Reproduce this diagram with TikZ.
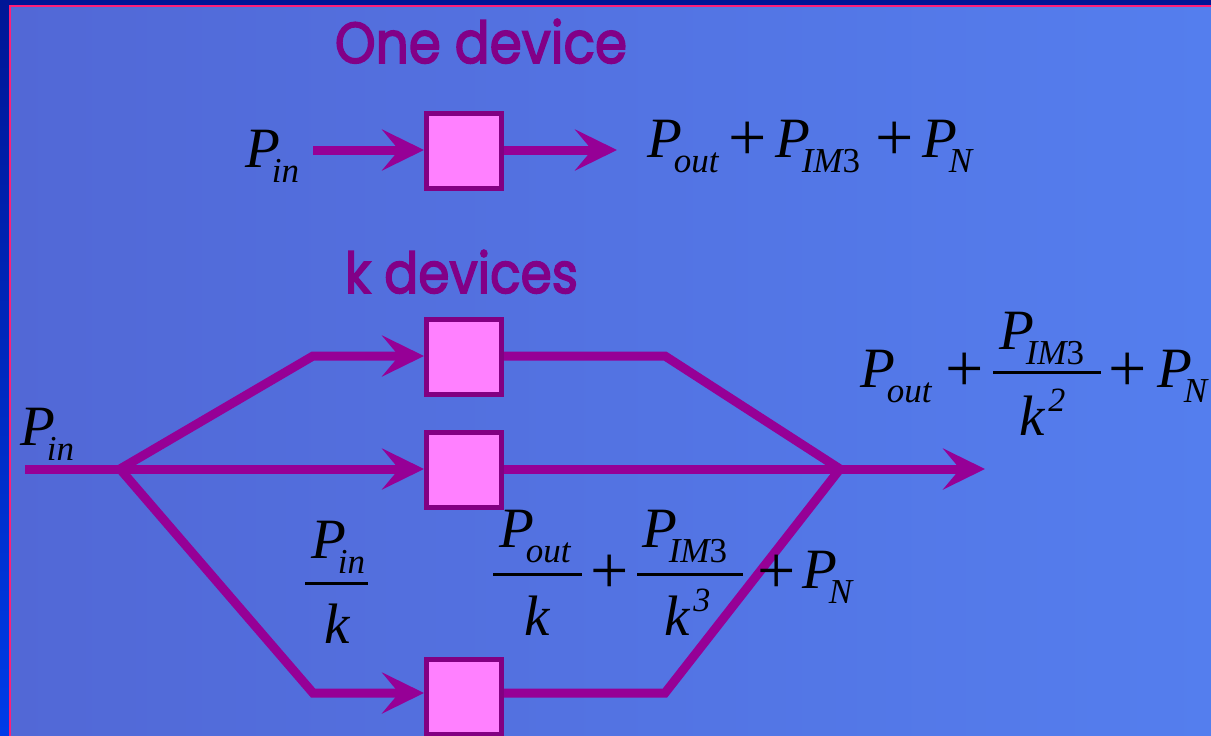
\documentclass[tikz,border=0pt]{standalone}
\usepackage{fontspec}
\setmainfont{Liberation Serif}
\newfontfamily\ttl[FakeBold=2.8]{Poppins}
\usetikzlibrary{arrows.meta}
\definecolor{bgL}{RGB}{82,104,214}
\definecolor{bgR}{RGB}{84,126,238}
\definecolor{frameT}{RGB}{0,22,150}
\definecolor{frameB}{RGB}{0,60,232}
\definecolor{pinkline}{RGB}{255,30,120}
\definecolor{wire}{RGB}{150,0,150}
\definecolor{devb}{RGB}{130,0,130}
\definecolor{devf}{RGB}{255,128,255}
\definecolor{ttlc}{RGB}{130,0,135}
\newcommand\Sb[1]{\raisebox{-15pt}{\fontsize{35}{35}\selectfont\itshape #1}}
\newcommand\Pv[1]{{\itshape P}\kern-8pt\Sb{#1}}
\newcommand\Sp[1]{\raisebox{24pt}{\fontsize{34}{34}\selectfont #1}}
\tikzset{
  wirestyle/.style={draw=wire, line width=9pt},
  arr/.style={wirestyle, -{Stealth[length=42pt,width=41pt,inset=17pt]}},
  dev/.style={draw=devb, fill=devf, line width=5pt, minimum size=75pt, inner sep=0pt},
  mth/.style={inner sep=0pt, outer sep=0pt, text=black, font=\fontsize{57}{60}\selectfont},
  plus/.style={mth, font=\fontsize{68}{70}\selectfont},
  fbar/.style={draw=black, line width=3pt},
  ttlstyle/.style={inner sep=0pt, text=ttlc}
}
\begin{document}
\begin{tikzpicture}[x=1pt,y=-1pt]
\useasboundingbox (0,0) rectangle (1211,736);
\clip (0,0) rectangle (1211,736);
% background
\shade[top color=frameT, bottom color=frameB] (0,0) rectangle (1211,736);
\shade[left color=bgL, right color=bgR] (10,6) rectangle (1211,736);
\draw[pinkline, line width=2.5pt] (10,740) -- (10,6) -- (1215,6);

% titles
\node[ttlstyle, anchor=base] (h1) at (481,63) {\resizebox{292pt}{44pt}{\ttl One device}};
\node[ttlstyle, anchor=base] (h2) at (461.5,293) {\resizebox{233pt}{43pt}{\ttl k devices}};

% one device
\node[dev] (b1) at (464,151) {};
\node[mth, anchor=base west] (pin1) at (245,167) {\Pv{in}};
\coordinate (s1) at (313,150);
\coordinate (e1) at (617,150);
\draw[arr] (s1) -- (b1.west |- s1);
\draw[arr] (b1.east |- e1) -- (e1);
\node[mth, anchor=base west] (t1) at (647,157) {\Pv{out}};
\node[plus] (tp1) at (748,141) {+};
\node[mth, anchor=base west] (t2) at (775,157) {\Pv{IM\upshape 3}};
\node[plus] (tp2) at (895,141) {+};
\node[mth, anchor=base west] (t3) at (922,157) {\Pv{N}};

% k devices
\node[dev] (bu) at (464,357) {};
\node[dev] (bm) at (464,470) {};
\node[dev] (bl) at (464,697) {};
\coordinate (in) at (25,469);
\coordinate (sp) at (120,469);
\coordinate (ua) at (313,356);
\coordinate (la) at (313,693);
\coordinate (ub) at (665,356);
\coordinate (lb) at (665,693);
\coordinate (mg) at (840,469);
\coordinate (out) at (985,469);
\draw[arr] (in) -- (bm.west |- in);
\draw[arr] (sp) -- (ua) -- (bu.west |- ua);
\draw[arr] (sp) -- (la) -- (bl.west |- la);
\draw[arr] (bm.east |- out) -- (out);
\draw[wirestyle] (bu.east |- ub) -- (ub) -- (mg);
\draw[wirestyle] (bl.east |- lb) -- (lb) -- (mg);

\node[mth, anchor=base west] (pin2) at (20,445) {\Pv{in}};

% P_in / k
\node[mth, anchor=base west] (f1n) at (311,558) {\Pv{in}};
\draw[fbar] (305,583) -- (368,583);
\node[mth, anchor=base] (f1d) at (337,643) {\itshape k};

% P_out/k + P_IM3/k^3 + P_N
\node[mth, anchor=base west] (f2n) at (499,547) {\Pv{out}};
\draw[fbar] (493,574) -- (582,574);
\node[mth, anchor=base] (f2d) at (537,635) {\itshape k};
\node[plus] (fp1) at (610,574) {+};
\node[mth, anchor=base west] (f3n) at (642,547) {\Pv{IM\upshape 3}};
\draw[fbar] (637,574) -- (743,574);
\node[mth, anchor=base west] (f3d) at (664,635) {\itshape k\kern4pt\Sp{3}};
\node[plus] (fp2) at (777,574) {+};
\node[mth, anchor=base west] (f4) at (802,588) {\Pv{N}};

% right formula
\node[mth, anchor=base west] (r1) at (860,387) {\Pv{out}};
\node[plus] (rp1) at (965,372) {+};
\draw[fbar] (993,372) -- (1101,372);
\node[mth, anchor=base west] (r2n) at (999,349) {\Pv{IM\upshape 3}};
\node[mth, anchor=base west] (r2d) at (1019,435) {\itshape k\kern4pt\Sp{2}};
\node[plus] (rp2) at (1128,372) {+};
\node[mth, anchor=base west] (r3) at (1157,387) {\Pv{N}};
\end{tikzpicture}
\end{document}
